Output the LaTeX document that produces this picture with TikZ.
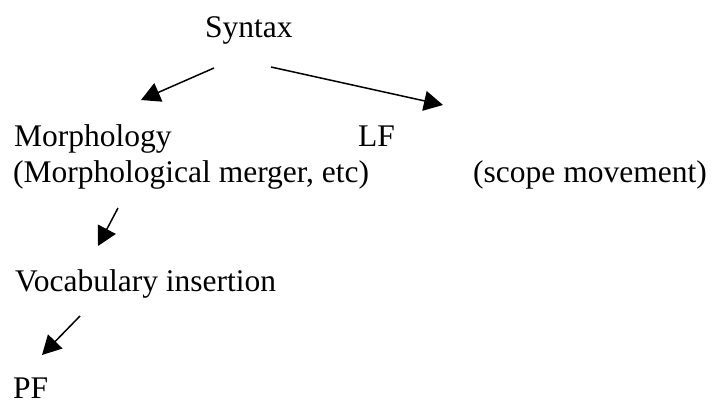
\documentclass[tikz,border=0pt]{standalone}
\usepackage{fontspec}
\setmainfont{Liberation Serif}
\usetikzlibrary{arrows.meta}
\begin{document}
\begin{tikzpicture}[x=1pt,y=-1pt,
  lbl/.style={anchor=base west,inner sep=0pt,font=\fontsize{31.5}{36}\selectfont},
  conn/.style={line width=1.5pt,-{Triangle[length=19pt,width=20pt]}}]
\useasboundingbox (0,0) rectangle (712,405);
\node[lbl] (syn) at (205,37) {Syntax};
\node[lbl] (mor) at (14,146) {Morphology};
\node[lbl] (lf) at (358,146) {LF};
\node[lbl] (mm) at (13,182) {(Morphological merger, etc)};
\node[lbl] (sm) at (473,182) {(scope movement)};
\node[lbl] (voc) at (15,291) {Vocabulary insertion};
\node[lbl] (pf) at (13,398) {PF};
\coordinate (a1s) at (214,68);
\coordinate (a1e) at (141,100);
\coordinate (a2s) at (271,67);
\coordinate (a2e) at (443,105);
\coordinate (a3s) at (118,208);
\coordinate (a3e) at (98,246);
\coordinate (a4s) at (80,316);
\coordinate (a4e) at (42,355);
\draw[conn] (a1s) -- (a1e);
\draw[conn] (a2s) -- (a2e);
\draw[conn] (a3s) -- (a3e);
\draw[conn] (a4s) -- (a4e);
\end{tikzpicture}
\end{document}
